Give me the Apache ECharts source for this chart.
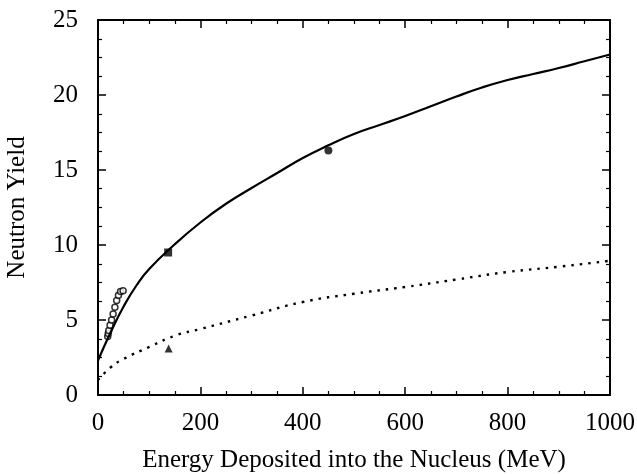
<!DOCTYPE html>
<html><head><meta charset="utf-8">
<script src="https://cdn.jsdelivr.net/npm/echarts@6/dist/echarts.min.js"></script>
<style>html,body{margin:0;padding:0;background:#fff}#c{width:637px;height:474px}</style>
</head><body><div id="c"></div>
<script>
const solidCurve = [[0,2.3],[25,4.2],[50,5.9],[75,7.3],[100,8.4],[150,10.05],[200,11.5],[250,12.75],[300,13.8],[350,14.8],[400,15.8],[450,16.65],[500,17.4],[550,18.0],[600,18.6],[650,19.25],[700,19.9],[750,20.5],[800,21.0],[850,21.4],[900,21.8],[950,22.25],[1000,22.7]];
const dottedCurve = [[0,1.0],[25,1.85],[50,2.4],[100,3.2],[150,3.95],[200,4.4],[300,5.3],[400,6.2],[500,6.75],[600,7.2],[700,7.7],[800,8.2],[900,8.55],[1000,8.95]];
const openCircles = [[19,3.9],[20,4.1],[21,4.3],[23.5,4.65],[26.5,5.0],[29.5,5.4],[33,5.85],[36.5,6.3],[40,6.65],[44,6.9],[49,6.95]];
const squarePts = [[137,9.5]];
const trianglePts = [[138,3.1]];
const filledCircles = [[450,16.3]];
const xTicks = [0,200,400,600,800,1000];
const yTicks = [0,5,10,15,20,25];

const font = 'Liberation Serif';
const chart = echarts.init(document.getElementById('c'), null, {renderer:'canvas'});
const axisCommon = {
  axisLine:{show:true, onZero:false, lineStyle:{color:'#000', width:2}},
  axisTick:{show:true, inside:true, length:8, lineStyle:{color:'#000', width:1.5}},
  minorTick:{show:true, splitNumber:4, length:4, lineStyle:{color:'#000', width:1.2}},
  splitLine:{show:false}
};
chart.setOption({
  animation:false,
  backgroundColor:'#fff',
  grid:{left:98, right:27, top:20, bottom:79, containLabel:false, outerBoundsMode:'none'},
  xAxis:[
    Object.assign({type:'value', min:xTicks[0], max:xTicks[xTicks.length-1], interval:200, position:'bottom',
      name:'Energy Deposited into the Nucleus (MeV)', nameLocation:'middle', nameGap:53,
      nameTextStyle:{fontFamily:font, fontSize:25, color:'#000'},
      axisLabel:{fontFamily:font, fontSize:25, color:'#000', margin:16, formatter:v=>String(v)}}, axisCommon),
    Object.assign({type:'value', min:xTicks[0], max:xTicks[xTicks.length-1], interval:200, position:'top',
      axisLabel:{show:false}}, axisCommon)
  ],
  yAxis:[
    Object.assign({type:'value', min:yTicks[0], max:yTicks[yTicks.length-1], interval:5, position:'left',
      name:'Neutron Yield', nameLocation:'middle', nameGap:68, nameRotate:90,
      nameTextStyle:{fontFamily:font, fontSize:25, color:'#000'},
      axisLabel:{fontFamily:font, fontSize:25, color:'#000', margin:20, formatter:v=>String(v)}}, axisCommon),
    Object.assign({type:'value', min:yTicks[0], max:yTicks[yTicks.length-1], interval:5, position:'right',
      axisLabel:{show:false}}, axisCommon)
  ],
  series:[
    {type:'line', data:solidCurve, smooth:0.5, showSymbol:false, lineStyle:{color:'#000', width:2.2}},
    {type:'line', data:dottedCurve, smooth:0.5, showSymbol:false, lineStyle:{color:'#000', width:2.4, type:[2.5,6]}},
    {type:'scatter', data:openCircles, symbol:'circle', symbolSize:6, itemStyle:{color:'#fff', borderColor:'#000', borderWidth:1.5}},
    {type:'scatter', data:squarePts, symbol:'rect', symbolSize:8, itemStyle:{color:'#000'}},
    {type:'scatter', data:trianglePts, symbol:'triangle', symbolSize:8, itemStyle:{color:'#000'}},
    {type:'scatter', data:filledCircles, symbol:'circle', symbolSize:8, itemStyle:{color:'#000'}}
  ]
});
</script></body></html>
